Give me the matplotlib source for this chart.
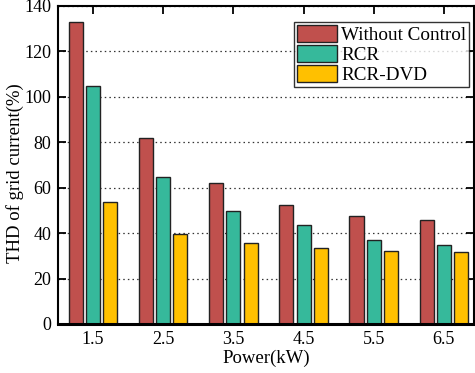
import numpy as np
import matplotlib.pyplot as plt

plt.rcParams['font.family'] = ['Liberation Serif', 'DejaVu Serif']

# THD of grid current at each power level
power = [1.5, 2.5, 3.5, 4.5, 5.5, 6.5]
without_control = [132.8, 81.8, 62.0, 52.3, 47.5, 45.6]
rcr = [104.9, 64.8, 49.9, 43.6, 36.9, 34.8]
rcr_dvd = [53.8, 39.8, 35.6, 33.5, 32.1, 31.7]

series = [
    ("Without Control", without_control, "#C0504D"),
    ("RCR", rcr, "#36B99B"),
    ("RCR-DVD", rcr_dvd, "#FFC000"),
]

fig = plt.figure(figsize=(4.75, 3.73), dpi=100)
ax = fig.add_axes([58 / 475, 1 - 324 / 373, 416 / 475, 318 / 373])

x = np.array(power)
offsets = [-0.245, 0.0, 0.245]
for (name, vals, color), off in zip(series, offsets):
    ax.bar(x + off, vals, width=0.2, color=color, edgecolor="#222222",
           linewidth=1.0, label=name, zorder=2)

ax.set_xlim(1.0, 6.93)
ax.set_ylim(0, 140)
ax.set_xticks(power)
ax.set_xticklabels([str(p) for p in power])
ax.set_yticks(range(0, 141, 20))

ax.yaxis.grid(True, linestyle=(0, (1.2, 2.5)), color="#333333", linewidth=0.9, zorder=0)
ax.set_axisbelow(True)

ax.tick_params(direction="in", length=6, width=1.3, top=True, right=True,
               labelsize=13, pad=5)
for sp in ax.spines.values():
    sp.set_linewidth(1.5)
    sp.set_zorder(5)
ax.spines["bottom"].set_linewidth(2.2)

ax.set_xlabel("Power(kW)", fontsize=13.5, labelpad=1)
ax.set_ylabel("THD of grid current(%)", fontsize=13.5, va="center")
ax.yaxis.set_label_coords(-0.103, 0.475)

leg = ax.legend(loc="upper right", bbox_to_anchor=(0.988, 0.95), fontsize=13.8,
                frameon=True, fancybox=False, edgecolor="black",
                handlelength=2.1, handleheight=1.0, handletextpad=0.2,
                labelspacing=0.05, borderpad=0.15, borderaxespad=0.0)
leg.get_frame().set_linewidth(1.0)

fig.savefig("out.png", dpi=100)
